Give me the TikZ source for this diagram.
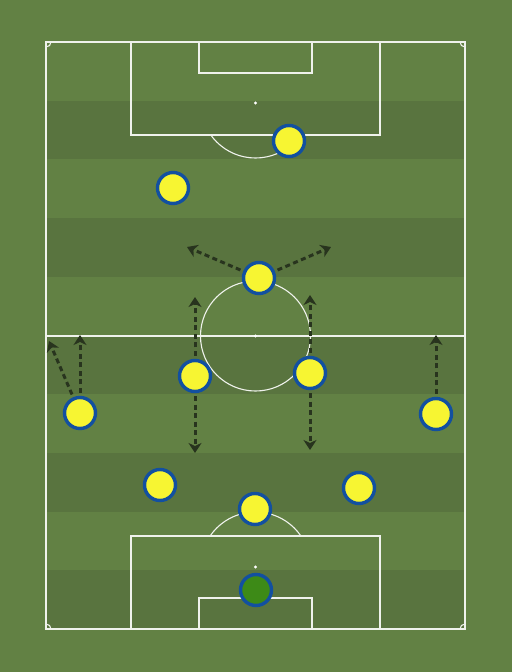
\documentclass[tikz,border=0pt]{standalone}
\usetikzlibrary{arrows.meta,shadows}
\definecolor{cesped}{RGB}{98,129,68}
\definecolor{franja}{RGB}{89,116,63}
\definecolor{amarillo}{RGB}{247,245,50}
\definecolor{azul}{RGB}{18,80,160}
\definecolor{portero}{RGB}{61,138,23}
\definecolor{flechacol}{RGB}{40,52,30}

\begin{document}
\begin{tikzpicture}[x=1pt,y=-1pt,
    linea/.style={draw=white!90!cesped,line width=1.1pt},
    jugador/.style={circle,draw=azul,line width=3.4pt,fill=amarillo,minimum size=31pt,inner sep=0pt,
        drop shadow={opacity=.25,shadow xshift=0pt,shadow yshift=-1.5pt}},
    arquero/.style={jugador,fill=portero},
    flecha/.style={draw=flechacol,line width=3pt,dash pattern=on 5pt off 3.5pt,shorten <=3pt,
        -{Stealth[length=10pt,width=13pt,inset=3pt]}}]
        \useasboundingbox (0,0) rectangle (512,672);
        \fill[cesped] (0,0) rectangle (512,672); % fondo
        \foreach \i in {1,3,...,9}
        \fill[franja] (46,{42+\i*58.7}) rectangle (465,{42+(\i+1)*58.7}); % franjas
        % lineas del campo
        \draw[linea] (46,42) rectangle (465,629);
        \draw[linea] (46,336) -- (465,336);
        \draw[linea] (255.5,336) circle (55);
        \fill[white] (255.5,336) circle (1.6);
        \draw[linea] (131,42) rectangle (380,135);
        \draw[linea] (199,42) rectangle (312,73);
        \fill[white] (255.5,103) circle (1.6);
        \draw[linea] (131,536) rectangle (380,629);
        \draw[linea] (199,598) rectangle (312,629);
        \fill[white] (255.5,567) circle (1.6);
        \begin{scope}
        \clip (46,135) rectangle (465,200);
        \draw[linea] (255.5,103) circle (55);
        \end{scope}
        \begin{scope}
        \clip (46,470) rectangle (465,536);
        \draw[linea] (255.5,567) circle (55);
        \end{scope}
        \begin{scope}
        \clip (46,42) rectangle (465,629);
        \foreach \p in {(46,42),(465,42),(46,629),(465,629)}
        \draw[linea] \p circle (5);
        \end{scope}
        % jugadores
        \node[jugador] (p1) at (289,141) {};
        \node[jugador] (p2) at (173,188) {};
        \node[jugador] (p3) at (259,278) {};
        \node[jugador] (p4) at (195,376) {};
        \node[jugador] (p5) at (310,373) {};
        \node[jugador] (p6) at (80,413) {};
        \node[jugador] (p7) at (436,414) {};
        \node[jugador] (p8) at (160,485) {};
        \node[jugador] (p9) at (359,488) {};
        \node[jugador] (p10) at (255,509) {};
        \node[arquero] (gk) at (256,590) {};
        % movimientos
        \coordinate (m3a) at (187,247);
        \coordinate (m3b) at (331,247);
        \coordinate (m4a) at (195,297);
        \coordinate (m4b) at (195,453);
        \coordinate (m5a) at (310,295);
        \coordinate (m5b) at (310,450);
        \coordinate (m6a) at (80,335);
        \coordinate (m6b) at (49,341);
        \coordinate (m7a) at (436,335);
        \draw[flecha] (p3) -- (m3a);
        \draw[flecha] (p3) -- (m3b);
        \draw[flecha] (p4) -- (m4a);
        \draw[flecha] (p4) -- (m4b);
        \draw[flecha] (p5) -- (m5a);
        \draw[flecha] (p5) -- (m5b);
        \draw[flecha] (p6) -- (m6a);
        \draw[flecha] (p6) -- (m6b);
        \draw[flecha] (p7) -- (m7a);
\end{tikzpicture}
\end{document}
